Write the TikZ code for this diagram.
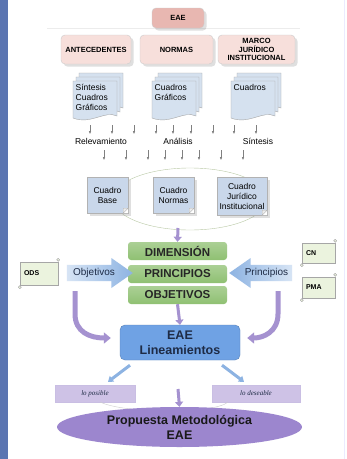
\documentclass[tikz,border=0pt]{standalone}
\usepackage{fontspec}
\setmainfont{Liberation Sans}
\newfontfamily\serifit{Liberation Serif}
\usetikzlibrary{shapes.geometric,shapes.arrows,shadows,arrows.meta,positioning}

\definecolor{pinkdark}{HTML}{E8B7B1}
\definecolor{pinklight}{HTML}{F7DFDB}
\definecolor{pagefill}{HTML}{D5E1EF}
\definecolor{boxblue}{HTML}{C9D7EA}
\definecolor{greenbox}{HTML}{8FC072}
\definecolor{arrowblue}{HTML}{8DB3E2}
\definecolor{lilac}{HTML}{A592D0}
\definecolor{eaeblue}{HTML}{6FA2E4}
\definecolor{purplell}{HTML}{9C86CE}
\definecolor{scrollgreen}{HTML}{EBF3DE}
\definecolor{stripblue}{HTML}{5B75B1}
\definecolor{ringgreen}{HTML}{B9C9A5}
\definecolor{navytext}{HTML}{1E2B45}
\definecolor{ribbonfill}{HTML}{CEC2E6}

\tikzset{
  pics/pages/.style = {code = {
      \foreach \d in {2,1,0} {
        \begin{scope}[shift = {(3*\d,-4*\d)}]
          \draw[gray!70, fill = pagefill] (0,0) -- (44,0) -- (44,35)
            .. controls (32,29) and (18,44) .. (0,37) -- cycle;
        \end{scope}
      }
    }},
}

\begin{document}
\begin{tikzpicture}[
  x = 1pt, y = -1pt,
  head/.style = {draw = gray!40, rounded corners = 4pt, fill = pinklight,
                 drop shadow = {opacity = .25}, align = center, inner sep = 1pt,
                 font = \fontsize{7.5}{8.5}\selectfont\bfseries},
  pagetext/.style = {anchor = north west, align = left, inner sep = 0pt,
                     font = \fontsize{8.5}{10}\selectfont},
  tick/.style = {gray, -{Latex[length = 3pt, width = 2.5pt]}},
  step label/.style = {font = \fontsize{8.5}{10}\selectfont},
  cuadro/.style = {draw = gray!60, fill = boxblue, drop shadow = {opacity = .25},
                   align = center, inner sep = 1pt,
                   font = \fontsize{8.5}{10}\selectfont},
  greenbox/.style = {rounded corners = 3pt, top color = greenbox!75,
                     bottom color = greenbox, minimum width = 99pt,
                     minimum height = 18pt, text = black!85,
                     font = \fontsize{11.5}{13}\selectfont\bfseries},
  scroll/.style = {draw = gray!70, fill = scrollgreen, inner sep = 2pt,
                   font = \fontsize{7}{8}\selectfont\bfseries},
  blockarrow/.style = {single arrow, single arrow head extend = 5pt,
                       single arrow tip angle = 70,
                       minimum width = 30pt, minimum height = 66pt, inner sep = 1pt,
                       text = navytext, font = \fontsize{10}{12}\selectfont},
  purple arrow/.style = {lilac, line width = 3pt,
                         -{Triangle[width = 8pt, length = 5pt]}},
  big purple/.style = {lilac, line width = 5pt,
                       -{Triangle[width = 11pt, length = 7pt]}},
  blue arrow/.style = {arrowblue, line width = 3pt,
                       -{Triangle[width = 7pt, length = 5pt]}},
  ribbon/.style = {fill = ribbonfill, draw = lilac!60,
                   minimum width = 80pt, minimum height = 17pt, text = navytext,
                   font = \fontsize{7}{8}\selectfont\serifit\itshape},
  ]
  \useasboundingbox (0,0) rectangle (347,459);
  \fill[white] (0,0) rectangle (347,459);
  \fill[stripblue] (0,0) rectangle (8,459);
  \draw[blue!8] (344,0) -- (344,459);

  % top level
  \draw[gray!15] (47,28) -- (300,28);
  \node[head, fill = pinkdark, minimum width = 52pt, minimum height = 20pt]
    (eae) at (178,18) {EAE};
  \node[head, minimum width = 70pt, minimum height = 29pt]
    (antec) at (96,49.5) {ANTECEDENTES};
  \node[head, minimum width = 73pt, minimum height = 29pt]
    (normas) at (176.5,49.5) {NORMAS};
  \node[head, minimum width = 77pt, minimum height = 29pt]
    (marco) at (256.5,49.5) {MARCO\\JURÍDICO\\INSTITUCIONAL};

  % documents
  \pic at (73,81) {pages};
  \pic at (152,81) {pages};
  \pic at (231,81) {pages};
  \node[pagetext] (doc1) at (75.5,84) {Síntesis\\Cuadros\\Gráficos};
  \node[pagetext] (doc2) at (154.5,84) {Cuadros\\Gráficos};
  \node[pagetext] (doc3) at (233.5,84) {Cuadros};

  % process
  \foreach \x in {90,112,134,156,173,191,213,234,256}
    \draw[tick] (\x,125) -- (\x,134);
  \node[step label] (relev) at (101,141.5) {Relevamiento};
  \node[step label] (anal) at (178,141.5) {Análisis};
  \node[step label] (sint) at (258,141.5) {Síntesis};
  \foreach \x in {104,126,148,165,182,199,221,243}
    \draw[tick] (\x,150) -- (\x,160);

  % cuadros
  \draw[ringgreen] (190,199) ellipse [x radius = 77, y radius = 31];
  \node[cuadro, minimum width = 41pt, minimum height = 36pt]
    (base) at (107.5,195) {Cuadro\\Base};
  \node[cuadro, minimum width = 41pt, minimum height = 36pt]
    (cnormas) at (173.5,195) {Cuadro\\Normas};
  \node[cuadro, minimum width = 50pt, minimum height = 38pt]
    (cjur) at (242,196) {Cuadro\\Jurídico\\Institucional};
  \foreach \b in {base,cnormas,cjur} {
    \fill[white] ([xshift = -5pt]\b.south east) -- (\b.south east)
      -- ([yshift = 5pt]\b.south east) -- cycle;
    \draw[gray!60, fill = gray!15] ([xshift = -5pt]\b.south east)
      -- ([xshift = -5pt, yshift = 5pt]\b.south east)
      -- ([yshift = 5pt]\b.south east) -- cycle;
  }

  % dimension block
  \coordinate (a1) at (178,228);
  \node[greenbox] (dim) at (177.5,251) {DIMENSIÓN};
  \node[greenbox] (prin) at (177.5,274) {PRINCIPIOS};
  \node[greenbox] (obj) at (177.5,295) {OBJETIVOS};
  \draw[purple arrow] (a1) -- (dim.north);

  \node[scroll, minimum width = 38pt, minimum height = 23pt, align = left,
        text width = 30pt] (ods) at (39,273.5) {ODS};
  \node[scroll, minimum width = 33pt, minimum height = 20pt, align = left,
        text width = 25pt] (cn) at (318.5,253) {CN};
  \node[scroll, minimum width = 33pt, minimum height = 21pt, align = left,
        text width = 25pt] (pma) at (318.5,287.5) {PMA};
  \foreach \s in {ods,cn,pma} {
    \draw[gray!70, fill = scrollgreen] ([yshift = 2pt]\s.north east) circle (1.5pt);
    \draw[gray!70, fill = scrollgreen] ([yshift = -2pt]\s.south west) circle (1.5pt);
  }

  \node[blockarrow, left color = arrowblue!35, right color = arrowblue]
    (objarr) at (94,273) {Objetivos};
  \node[blockarrow, shape border rotate = 180, minimum height = 63pt,
        left color = arrowblue, right color = arrowblue!35]
    (prinarr) at (266.5,273) {Principios};

  % lineamientos
  \node[rounded corners = 5pt, fill = eaeblue, draw = eaeblue!80!black,
        minimum width = 120pt, minimum height = 35pt,
        align = center, text = navytext,
        font = \fontsize{12.5}{15}\selectfont\bfseries]
    (lin) at (180,342.5) {EAE\\Lineamientos};
  \draw[purple arrow] (obj.south) -- (lin.north);

  \coordinate (lstart) at (75,291);
  \coordinate (rstart) at (278,291);
  \draw[big purple] (lstart) -- (75,314) .. controls (75,332) and (90,338)
    .. ([xshift = -9pt, yshift = 4.5pt]lin.west);
  \draw[big purple] (rstart) -- (278,314) .. controls (278,332) and (263,338)
    .. ([xshift = 7pt, yshift = 4.5pt]lin.east);

  % outcomes
  \node[ribbon] (posible) at (95,393.5) {lo posible};
  \node[ribbon, minimum width = 88pt] (deseable) at (256,393.5) {lo deseable};
  \draw[blue arrow] ([xshift = -50pt, yshift = -5pt]lin.south)
    -- ([xshift = 13pt, yshift = 3pt]posible.north);
  \draw[blue arrow] ([xshift = 42pt, yshift = -5pt]lin.south)
    -- ([xshift = -12pt, yshift = 3pt]deseable.north);
  \draw[gray!40] (100,402) .. controls (125,414) and (215,414) .. (228,402);

  \node[ellipse, fill = purplell, minimum width = 245pt, minimum height = 40pt,
        inner sep = 0pt, align = center, text = black!90,
        font = \fontsize{12.5}{15}\selectfont\bfseries]
    (prop) at (179.5,427) {Propuesta Metodológica\\EAE};
  \coordinate (a3) at (178,389);
  \draw[purple arrow] (a3) -- (prop.north);
\end{tikzpicture}
\end{document}
